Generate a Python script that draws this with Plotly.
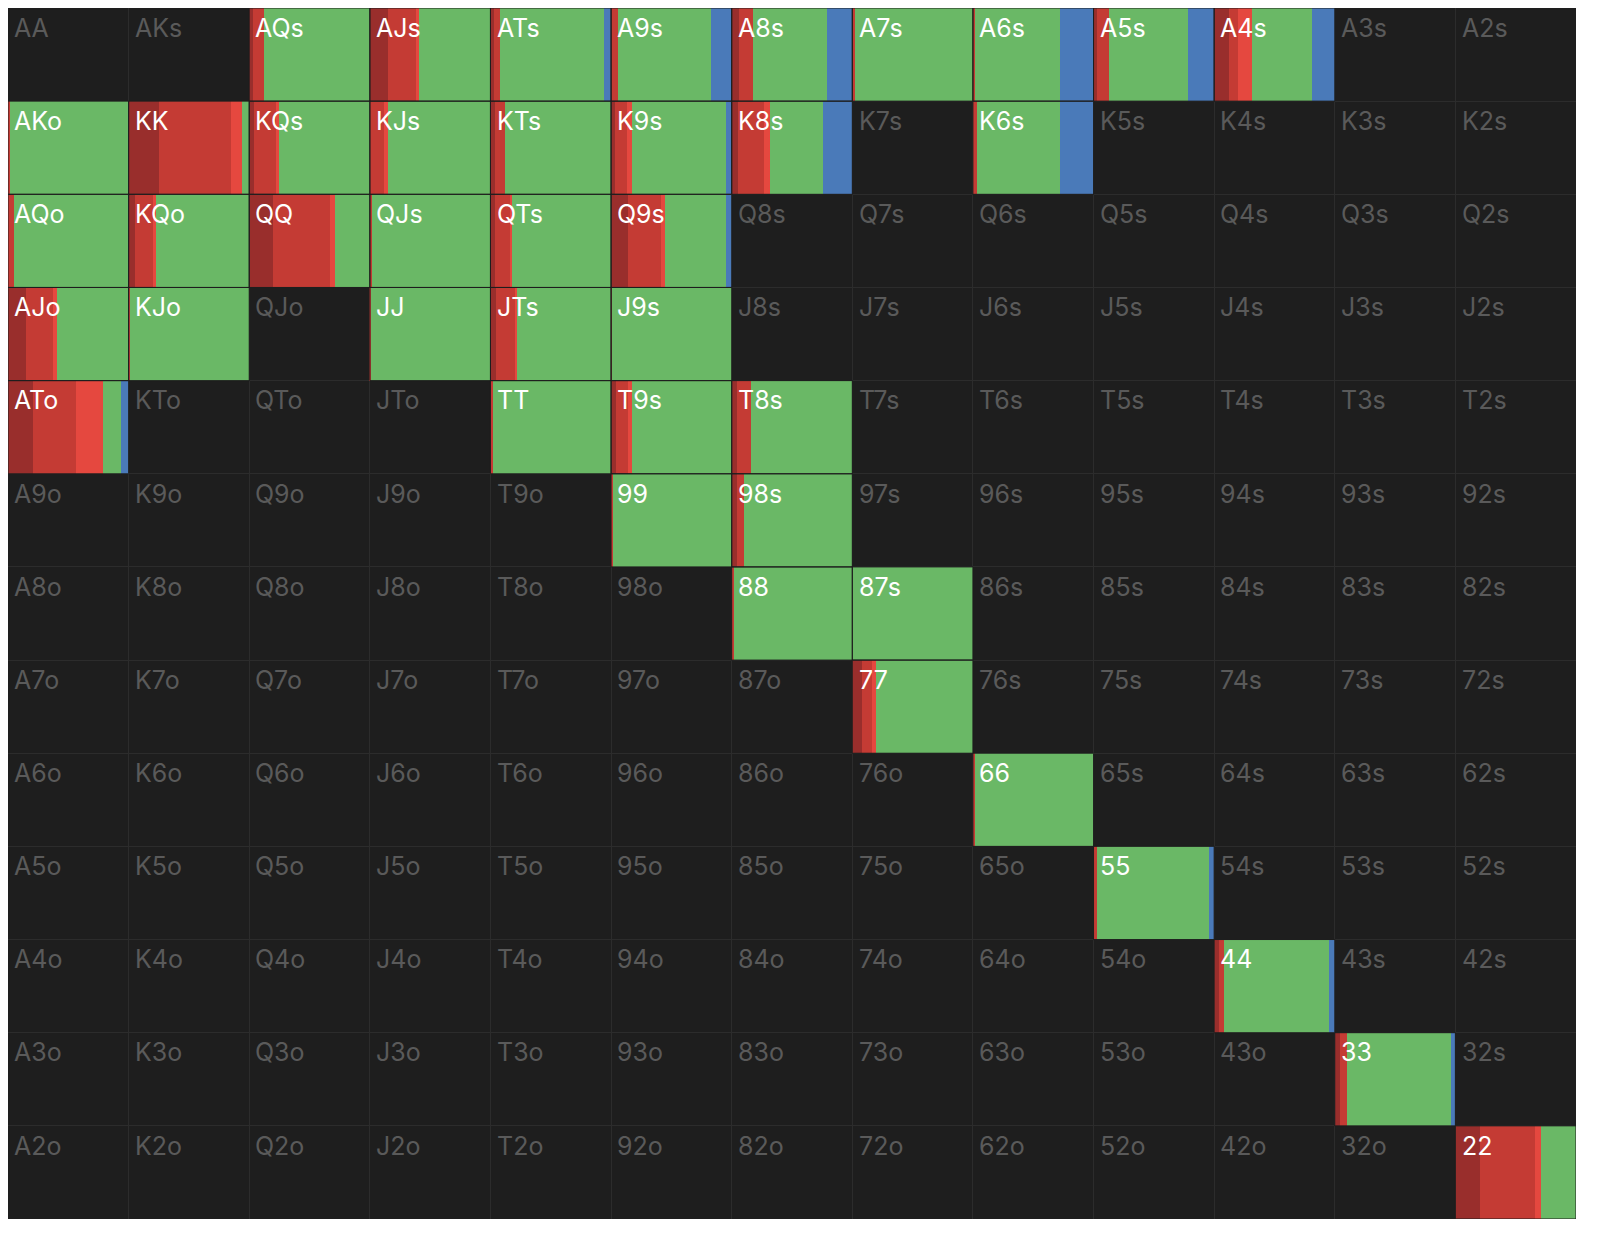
import plotly.graph_objects as go

ranks = list("AKQJT98765432")
hands = ["AQs","AJs","ATs","A9s","A8s","A7s","A6s","A5s","A4s",
         "AKo","KK","KQs","KJs","KTs","K9s","K8s","K6s",
         "AQo","KQo","QQ","QJs","QTs","Q9s",
         "AJo","KJo","JJ","JTs","J9s",
         "ATo","TT","T9s","T8s",
         "99","98s","88","87s","77","66","55","44","33","22"]
dark   = [.03,.15,.03,0,.06,0,0,.03,.12, 0,.25,.04,0,.04,.03,.05,0, 0,.05,.20,0,.04,.14, .15,0,0,.05,0, .21,0,.04,.04, 0,.04,0,0,.08,0,0,.04,.04,.20]
red    = [.09,.23,.05,.06,.12,.02,.02,.10,.08, .02,.60,.18,.12,.08,.10,.22,.03, .05,.15,.47,.02,.12,.27, .22,.01,.01,.15,.01, .35,.02,.10,.12, .02,.06,.02,0,.08,.02,.03,.04,.06,.46]
bright = [0,.03,0,0,0,0,0,0,.11, 0,.09,.03,.03,0,.04,.05,0, 0,.03,.04,0,.02,.04, .04,0,0,.02,0, .23,0,.03,0, 0,0,0,0,.04,0,0,0,0,.05]
green  = [.88,.59,.86,.77,.61,.98,.70,.65,.50, .98,.06,.75,.85,.88,.78,.44,.69, .95,.77,.29,.98,.82,.50, .59,.99,.99,.78,.99, .15,.98,.83,.84, .98,.90,.98,1.0,.80,.98,.93,.87,.86,.29]
blue   = [0,0,.06,.17,.21,0,.28,.22,.19, 0,0,0,0,0,.05,.24,.28, 0,0,0,0,0,.05, 0,0,0,0,0, .06,0,0,0, 0,0,0,0,0,0,.04,.05,.04,0]

def hand_at(r, c):
    if r == c: return ranks[r] + ranks[c]
    if c > r: return ranks[r] + ranks[c] + "s"
    return ranks[c] + ranks[r] + "o"

pos = {}
for r in range(13):
    for c in range(13):
        pos[hand_at(r, c)] = (r, c)

colors = ["#992e2c", "#c43b34", "#e5483f", "#6ab866", "#4a7ab9"]
series = [dark, red, bright, green, blue]
fig = go.Figure()
cum = [0.0] * len(hands)
for vals, col in zip(series, colors):
    ys, xs, bases = [], [], []
    for i, h in enumerate(hands):
        r, c = pos[h]
        if vals[i] > 0:
            ys.append(r + 0.5); xs.append(vals[i]); bases.append(c + cum[i])
        cum[i] += vals[i]
    fig.add_trace(go.Bar(orientation="h", y=ys, x=xs, base=bases, width=1,
                         marker=dict(color=col, line=dict(width=0)),
                         showlegend=False, hoverinfo="skip"))

for r in range(13):
    for c in range(13):
        h = hand_at(r, c)
        active = h in hands
        fig.add_annotation(x=c + 0.035, y=r + 0.03, text=h, showarrow=False,
                           xanchor="left", yanchor="top",
                           font=dict(size=25, family="Inter, Roboto, sans-serif",
                                     color="#ffffff" if active else "#5a5a5a"))
for h in hands:
    r, c = pos[h]
    fig.add_shape(type="rect", x0=c, x1=c + 1, y0=r, y1=r + 1,
                  line=dict(color="#1e1e1e", width=1))

fig.update_layout(width=1568, height=1211, autosize=False, barmode="overlay", bargap=0,
                  margin=dict(l=0, r=0, t=0, b=0, pad=0),
                  paper_bgcolor="#1e1e1e", plot_bgcolor="#1e1e1e")
fig.update_xaxes(range=[0, 13], showgrid=True, gridcolor="#2c2c2c", dtick=1, tick0=0,
                 showticklabels=False, zeroline=False, fixedrange=True)
fig.update_yaxes(range=[13, 0], showgrid=True, gridcolor="#2c2c2c", dtick=1, tick0=0,
                 showticklabels=False, zeroline=False, fixedrange=True)
fig.write_html("out.html", config={"responsive": False})
